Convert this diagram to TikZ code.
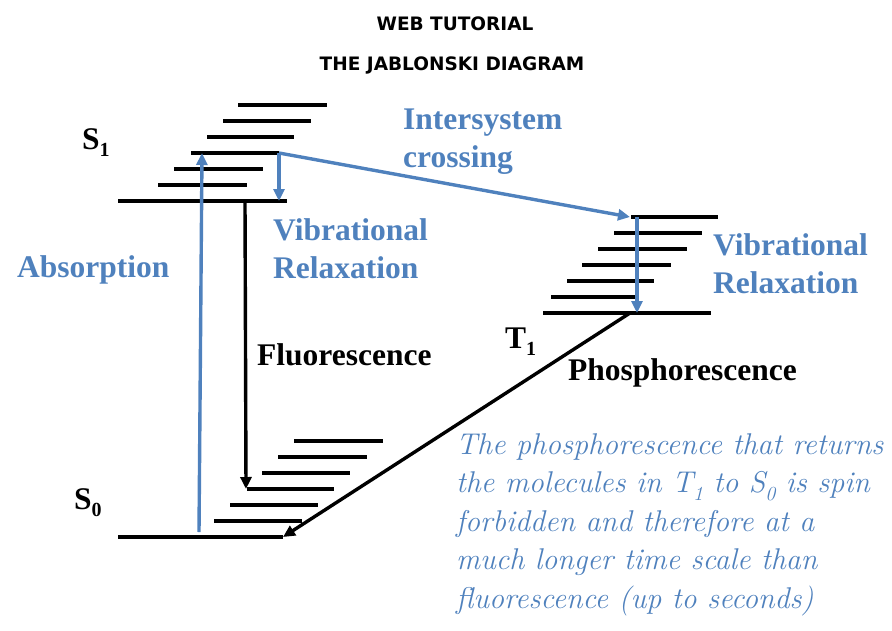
\documentclass[tikz,border=0pt]{standalone}
\usepackage{fontspec}
\usepackage{tikz}
\usetikzlibrary{arrows.meta}
\newfontfamily\labelfont{Liberation Serif}
\newfontfamily\titlefont{DejaVu Sans}
\definecolor{jblue}{HTML}{4F81BD}
\newcommand{\lowsub}[1]{\raisebox{-0.25em}{\fontsize{20}{20}\selectfont #1}}

\begin{document}
\begin{tikzpicture}[x=1pt,y=-1pt,>={Triangle[length=12pt,width=11pt]},
    level/.style={line width=3.3pt},
    trans/.style={line width=3.4pt,->},
    lbl/.style={anchor=base west,inner sep=0pt,align=left,
      font=\labelfont\bfseries\fontsize{31.5}{38}\selectfont},
    ttl/.style={anchor=base,inner sep=0pt,
      font=\titlefont\bfseries\fontsize{18.5}{20}\selectfont}]
    \useasboundingbox (0,0) rectangle (892,630);

    \draw node at (455,30)[name=web,ttl]{WEB TUTORIAL};
    \draw node at (452,70)[name=title,ttl]{THE JABLONSKI DIAGRAM};

    % S1 levels
    \draw[level] (118,201) -- (287,201);
    \draw[level] (158,185) -- (247,185);
    \draw[level] (174,169) -- (263,169);
    \draw[level] (191,153) -- (279,153);
    \draw[level] (207,137) -- (294,137);
    \draw[level] (223,121) -- (311,121);
    \draw[level] (238,105) -- (327,105);
    % T1 levels
    \draw[level] (543,313) -- (711,313);
    \draw[level] (551,297) -- (638,297);
    \draw[level] (567,281) -- (654,281);
    \draw[level] (582,265) -- (671,265);
    \draw[level] (598,249) -- (687,249);
    \draw[level] (614,233) -- (702,233);
    \draw[level] (631,217) -- (718,217);
    % S0 levels
    \draw[level] (118,537) -- (283,537);
    \draw[level] (214,521) -- (302,521);
    \draw[level] (230,505) -- (318,505);
    \draw[level] (247,489) -- (334,489);
    \draw[level] (262,473) -- (350,473);
    \draw[level] (278,457) -- (367,457);
    \draw[level] (294,441) -- (383,441);

    \coordinate (absfoot) at (199,532);
    \coordinate (abstop) at (202,153);
    \coordinate (sonevib) at (279,153);
    \coordinate (soneg) at (279,201);
    \coordinate (fluotop) at (245,201);
    \coordinate (fluoend) at (246,489);
    \coordinate (tonevib) at (630,217);
    \coordinate (vrtop) at (637,217);
    \coordinate (vrend) at (637,313);
    \coordinate (phostop) at (630,313);
    \coordinate (phosend) at (283,537);

    \begin{scope}[jblue]
    \draw[trans](absfoot) -- (abstop);
    \draw[trans](sonevib) -- (soneg);
    \draw[trans](sonevib) -- (tonevib);
    \draw[trans](vrtop) -- (vrend);
    \end{scope}
    \draw[trans](fluotop) -- (fluoend);
    \draw[trans](phostop) -- (phosend);

    \draw node at (82,149)[name=sone,lbl]{S\lowsub{1}};
    \draw node at (74,509)[name=szero,lbl]{S\lowsub{0}};
    \draw node at (505,348)[name=tone,lbl]{T\lowsub{1}};
    \draw node at (257,365)[name=fluo,lbl]{Fluorescence};
    \draw node at (568,380)[name=phos,lbl]{Phosphorescence};

    % multi-line nodes: base is the last line
    \begin{scope}[jblue]
    \draw node at (17,277)[name=abs,lbl]{Absorption};
    \draw node at (403,167)[name=isc,lbl]{Intersystem\\crossing};
    \draw node at (273,278)[name=vrs,lbl]{Vibrational\\Relaxation};
    \draw node at (713,293)[name=vrt,lbl]{Vibrational\\Relaxation};
    \draw node at (456,608)[name=note,anchor=base west,inner sep=0pt,align=left,
      font=\itshape\fontsize{30}{38.4}\selectfont]{The phosphorescence that returns\\
      the molecules in T\lowsub{1} to S\lowsub{0} is spin\\
      forbidden and therefore at a\\
      much longer time scale than\\
      fluorescence (up to seconds)};
    \end{scope}
\end{tikzpicture}
\end{document}
